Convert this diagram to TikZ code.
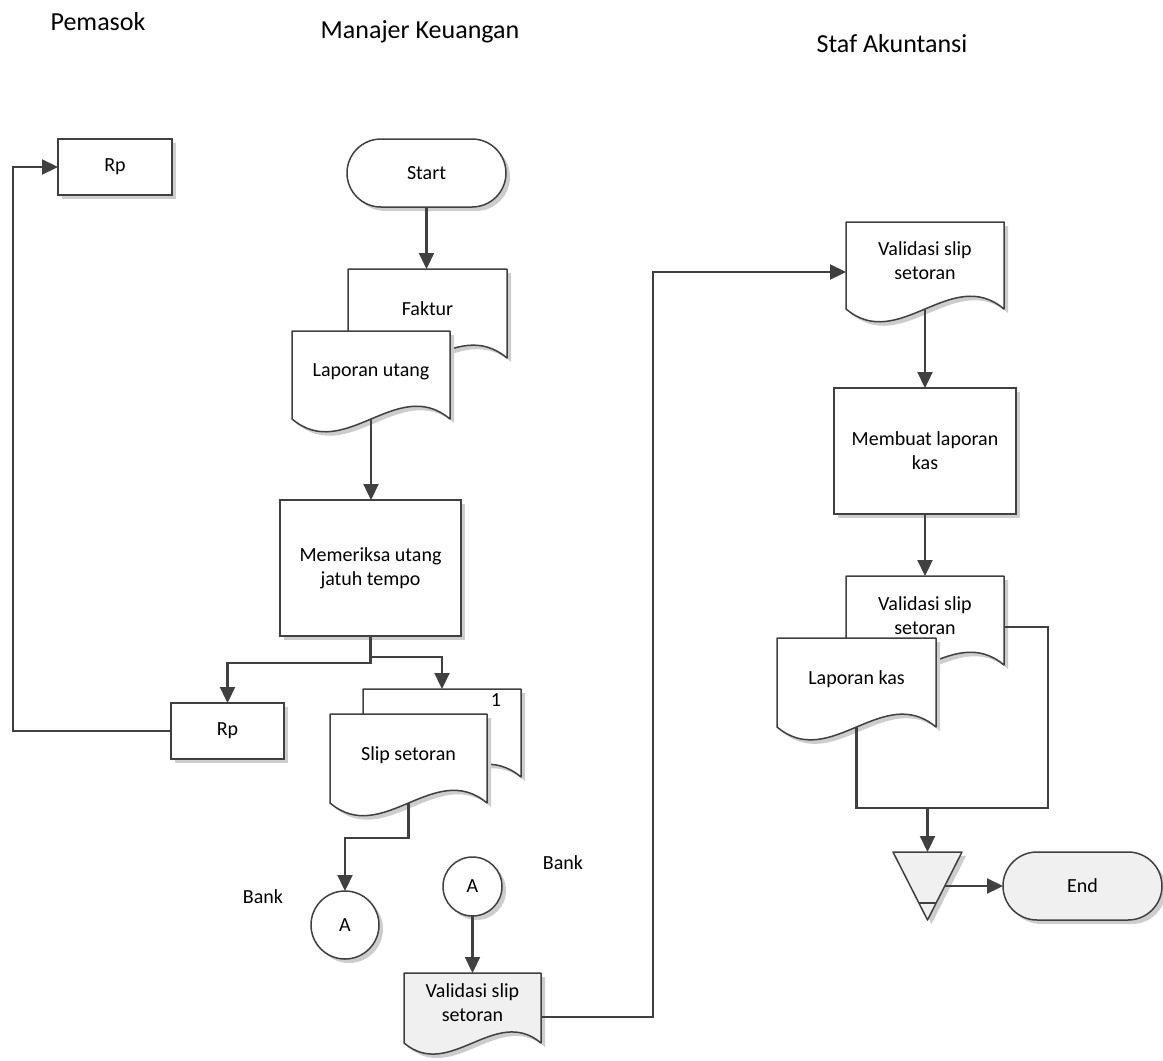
\documentclass[tikz,border=0pt]{standalone}
\usepackage{fontspec}
\setmainfont{Carlito}
\usetikzlibrary{calc,arrows.meta,shadows}
\pgfdeclarelayer{bg}
\pgfsetlayers{bg,main}
\definecolor{linec}{RGB}{64,64,64}
\definecolor{shadowc}{RGB}{205,205,205}
\definecolor{grayfill}{RGB}{240,240,240}
\newcommand\docshape[2]{%
  \begin{pgfonlayer}{bg}
  \fill[shadowc] let \p1=(#1.north west),\p2=(#1.south east),\n1={\x2-\x1},\n2={0.28*\n1} in
    (\x1+4pt,\y2-4pt) -- (\x1+4pt,\y1-4pt) -- (\x2+4pt,\y1-4pt) -- (\x2+4pt,\y2-4pt)
    .. controls (\x2-\n1/3+4pt,\y2+\n2-4pt) and (\x1+\n1/3+4pt,\y2-\n2-4pt) .. (\x1+4pt,\y2-4pt) -- cycle;
  \filldraw[fill=#2,draw=linec,line width=1.5pt,line join=round] let \p1=(#1.north west),\p2=(#1.south east),\n1={\x2-\x1},\n2={0.28*\n1} in
    (\x1,\y2) -- (\x1,\y1) -- (\x2,\y1) -- (\x2,\y2)
    .. controls (\x2-\n1/3,\y2+\n2) and (\x1+\n1/3,\y2-\n2) .. (\x1,\y2) -- cycle;
  \end{pgfonlayer}}
\begin{document}
\begin{tikzpicture}[x=1pt,y=-1pt,
  every node/.style={font=\fontsize{20}{24}\selectfont,text=black},
  hdr/.style={font=\fontsize{26}{30}\selectfont,anchor=base},
  box/.style={rectangle,draw=linec,line width=1.5pt,fill=white,inner sep=0pt,outer sep=0pt,align=center,
    drop shadow={shadow xshift=4pt,shadow yshift=-4pt,fill=shadowc,opacity=1}},
  term/.style={box,rounded corners=34pt,minimum width=159pt,minimum height=68pt},
  conn/.style={draw=linec,line width=2.2pt},
  arr/.style={conn,-{Triangle[length=16pt,width=15pt]}},
  docn/.style={rectangle,inner sep=0pt,outer sep=0pt,align=center,text depth=10pt},
  circ/.style={box,circle}
]
\useasboundingbox (0,0) rectangle (1163,1061);

% headers
\node[hdr] (hp) at (98,30) {Pemasok};
\node[hdr] (hm) at (420,38) {Manajer Keuangan};
\node[hdr] (hs) at (892,52) {Staf Akuntansi};

% Pemasok
\node[box,minimum width=114pt,minimum height=56pt] (rp1) at (115,167) {Rp};
\node[box,minimum width=113pt,minimum height=56pt] (rp2) at (227.5,731) {Rp};

% Manajer Keuangan
\node[term] (start) at (426.5,173) {Start};
\node[docn,minimum width=159pt,minimum height=89pt] (faktur) at (427.5,313.5) {Faktur};
\docshape{faktur}{white}
\node[docn,minimum width=158pt,minimum height=88pt] (laput) at (371,375) {Laporan utang};
\docshape{laput}{white}
\node[box,minimum width=181pt,minimum height=136pt] (mem) at (370.5,568) {Memeriksa utang\\jatuh tempo};
\node[docn,minimum width=158pt,minimum height=88pt] (slipb) at (442,733) {};
\docshape{slipb}{white}
\node (one) at (496,700) {1};
\node[docn,minimum width=157pt,minimum height=89pt] (slip) at (408.5,758.5) {Slip setoran};
\docshape{slip}{white}
\node[circ,minimum size=68pt] (a1) at (345,925) {A};
\node (bank1) at (263,897) {Bank};
\node[circ,minimum size=59pt] (a2) at (472.5,886.5) {A};
\node (bank2) at (563,863) {Bank};
\node[docn,minimum width=137pt,minimum height=70pt] (vb) at (472.5,1008) {Validasi slip\\setoran};
\docshape{vb}{grayfill}

% Staf Akuntansi
\node[docn,minimum width=158pt,minimum height=87pt] (vt) at (925,265.5) {Validasi slip\\setoran};
\docshape{vt}{white}
\node[box,minimum width=182pt,minimum height=126pt] (memb) at (925,451) {Membuat laporan\\kas};
\node[docn,minimum width=158pt,minimum height=89pt] (v2) at (925,620.5) {Validasi slip\\setoran};
\docshape{v2}{white}
\node[docn,minimum width=159pt,minimum height=89pt] (lapkas) at (856.5,682.5) {Laporan kas};
\docshape{lapkas}{white}
\node[rectangle,inner sep=0pt,outer sep=0pt,minimum width=69pt,minimum height=68pt] (tri) at (927.5,886) {};
\fill[shadowc] ([shift={(4pt,-4pt)}]tri.north west) -- ([shift={(4pt,-4pt)}]tri.north east) -- ([shift={(4pt,-4pt)}]tri.south) -- cycle;
\filldraw[fill=grayfill,draw=linec,line width=1.5pt,line join=round] (tri.north west) -- (tri.north east) -- (tri.south) -- cycle;
\draw[linec,line width=1.5pt] ($(tri.north west)!0.75!(tri.south)$) -- ($(tri.north east)!0.75!(tri.south)$);
\node[term,fill=grayfill] (endn) at (1082.5,886) {End};

% connectors
\draw[arr] (start.south) -- (start.south |- faktur.north);
\draw[arr] (laput.south) -- (laput.south |- mem.north);
\draw[arr] (mem.south) -- ++(0,27) -| (rp2.north);
\draw[arr] (mem.south) -- ++(0,21) -| (slipb.north);
\draw[arr] (rp2.west) -- ++(-158,0) |- (rp1.west);
\draw[arr] (slip.south) -- ++(0,35) -| (a1.north);
\draw[arr] (a2.south) -- (a2.south |- vb.north);
\draw[arr] ($(vb.east)+(0,9)$) -- ++(112,0) |- ($(vt.west)+(0,6.5)$);
\draw[arr] (vt.south) -- (vt.south |- memb.north);
\draw[arr] (memb.south) -- (memb.south |- v2.north);
\path (tri.north) ++(0,-44) coordinate (mj);
\draw[conn] ($(v2.east)+(0,6.5)$) -- ++(44,0) |- (mj) -| (lapkas.south);
\draw[arr] (mj) -- (tri.north);
\draw[arr] ($(tri.north east)!0.5!(tri.south)$) -- (endn.west);
\end{tikzpicture}
\end{document}
